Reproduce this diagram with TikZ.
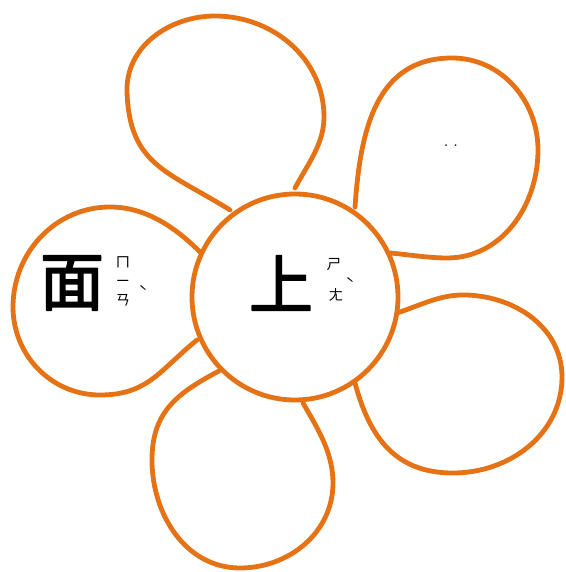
\documentclass[tikz,border=0pt]{standalone}
\usepackage{fontspec}
\newfontfamily\cjk{Noto Sans CJK TC}
\newfontfamily\cjkheavy[FakeBold=2.5]{Noto Sans CJK TC}
\usepackage{tikz}
\usepackage{xcolor}
\definecolor{petalorange}{RGB}{230,114,22}

\begin{document}
\begin{tikzpicture}[x=0.75pt,y=0.75pt,line cap=round,line join=round,
  petal/.style={draw=petalorange,line width=3.6pt,fill=white},
  bigchar/.style={font=\cjkheavy\fontsize{48}{48}\selectfont,inner sep=0pt},
  zhuyin/.style={font=\cjk\fontsize{11}{11}\selectfont,inner sep=0pt}]
\useasboundingbox (0,0) rectangle (565,572);
% upper left petal
\draw[petal] (230,362) to[out=148,in=-88,looseness=1.2] (127,480) to[out=92,in=180] (215,556)
  to[out=0,in=90] (324,455) to[out=-90,in=62,looseness=0.9] (295,384);
% upper right petal
\draw[petal] (355,365) to[out=86,in=180,looseness=1.1] (452,514) to[out=0,in=90] (538,422)
  to[out=-90,in=0] (447,314) to[out=180,in=-5,looseness=0.8] (390,319);
% lower right petal
\draw[petal] (397,259) to[out=18,in=180,looseness=0.9] (463,277) to[out=0,in=90] (562,195)
  to[out=-90,in=0] (453,99) to[out=180,in=-75,looseness=1.1] (355,189);
% bottom petal
\draw[petal] (219,201) to[out=208,in=90,looseness=1.1] (152,112) to[out=-90,in=180] (240,4)
  to[out=0,in=-90] (333,89) to[out=90,in=-60,looseness=0.9] (303,169);
% left petal
\draw[petal] (200,320) to[out=135,in=0,looseness=0.9] (110,365) to[out=180,in=90] (13,265)
  to[out=-90,in=180] (100,177) to[out=0,in=-141,looseness=1.1] (197,232);
% centre
\draw[petal] (295,275) circle (103);
\node[bigchar] (shang) at (281,289) {上};
\node[zhuyin] (shang1) at (334,307) {ㄕ};
\node[zhuyin] (shang2) at (336,277) {ㄤ};
\node[zhuyin] (shang3) at (350,288) {ˋ};
\node[bigchar] (mian) at (72,289) {面};
\node[zhuyin] (mian1) at (123,310) {ㄇ};
\node[zhuyin] (mian2) at (123,289) {ㄧ};
\node[zhuyin] (mian3) at (123,272) {ㄢ};
\node[zhuyin] (mian4) at (143,280) {ˋ};
\node[inner sep=0pt,font=\fontsize{8}{8}\selectfont\bfseries] (dots) at (451,426) {. .};
\end{tikzpicture}
\end{document}
